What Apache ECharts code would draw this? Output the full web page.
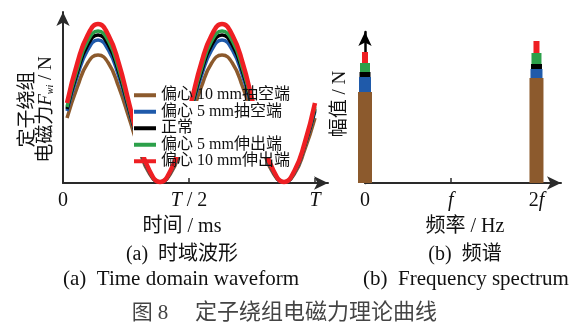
<!DOCTYPE html>
<html>
<head>
<meta charset="utf-8">
<script src="https://cdn.jsdelivr.net/npm/echarts@6/dist/echarts.min.js"></script>
<style>html,body{margin:0;padding:0;background:#fff}#c{width:582px;height:326px}</style>
</head>
<body>
<div id="c"></div>
<script>
// ---- data ----
const seriesNames = ['偏心 10 mm抽空端', '偏心 5 mm抽空端', '正常', '偏心 5 mm伸出端', '偏心 10 mm伸出端'];
const seriesColors = ['#8c5a2d', '#1f5aaa', '#000000', '#2ca04a', '#ee1f23'];
// time samples, as fraction of the period T
const timeT = [0.016,0.057,0.098,0.139,0.180,0.221,0.262,0.303,0.344,0.385,0.426,0.467,0.508,0.549,0.590,0.631,0.672,0.713,0.754,0.795,0.836,0.877,0.918,0.959,1.000];
const forceEcc10Free = [65,96,120,128,120,96,65,33,9,1,9,33,65,96,120,128,120,96,65,33,9,1,9,33,65];
const forceEcc5Free  = [72,107,133,143,133,107,72,37,10,1,10,37,72,107,133,143,133,107,72,37,10,1,10,37,72];
const forceNormal    = [74,111,138,148,138,111,74,38,11,1,11,38,74,111,138,148,138,111,74,38,11,1,11,38,74];
const forceEcc5Out   = [76,114,142,152,142,114,76,39,11,1,11,39,76,114,142,152,142,114,76,39,11,1,11,39,76];
const forceEcc10Out  = [80,120,148,159,148,120,80,40,12,1,12,40,80,120,148,159,148,120,80,40,12,1,12,40,80];
const timeTickLabels = ['0', 'T / 2', 'T'];
// spectrum: harmonic order (multiples of f) and amplitudes
const freqOrder = [0, 2];
const ampEcc10Free = [91, 105];
const ampEcc5Free  = [106, 114];
const ampNormal    = [111, 119];
const ampEcc5Out   = [120, 130];
const ampEcc10Out  = [131, 142];
const freqTickLabels = ['0', 'f', '2f'];

const forces = [forceEcc10Free, forceEcc5Free, forceNormal, forceEcc5Out, forceEcc10Out];
const amps = [ampEcc10Free, ampEcc5Free, ampNormal, ampEcc5Out, ampEcc10Out];

const SERIF = "'Liberation Serif','Noto Sans CJK SC',serif";
const AX = '#2a2a2a';
const chart = echarts.init(document.getElementById('c'), null, {renderer: 'canvas'});

function lineSeries(i) {
  return {
    type: 'line', name: seriesNames[i], xAxisIndex: 0, yAxisIndex: 0,
    data: timeT.map((t, k) => [t, forces[i][k]]),
    smooth: true, showSymbol: false, symbol: 'none',
    lineStyle: {color: seriesColors[i], width: i === 4 ? 4.5 : 3.5},
    itemStyle: {color: seriesColors[i]}, z: 2 + i * 0.1
  };
}
const barWidths = [14, 12, 11, 10, 6];
function barSeries(i) {
  return {
    type: 'bar', name: seriesNames[i], xAxisIndex: 1 + i, yAxisIndex: 1,
    data: freqOrder.map((f, k) => [f, amps[i][k]]),
    barWidth: barWidths[i], clip: false,
    itemStyle: {color: seriesColors[i]}, z: 2
  };
}
const hiddenX = [0,1,2,3,4].map(i => ({
  type: 'value', gridIndex: 1, min: 0, max: 2.286, show: i === 0,
  axisLine: {show: i === 0, symbol: ['none', 'arrow'], symbolSize: [10, 14], lineStyle: {color: AX, width: 2}},
  axisTick: {show: i === 0, inside: true, length: 5, customValues: [0, 1, 2], lineStyle: {color: AX, width: 1.5}},
  axisLabel: {show: i === 0, customValues: [0, 1, 2], margin: 8, fontSize: 20, fontFamily: SERIF, color: '#111',
    formatter: v => v === 0 ? freqTickLabels[0] : (v === 1 ? '{i|' + freqTickLabels[1] + '}' : '2{i|f}'),
    rich: {i: {fontStyle: 'italic', fontSize: 20, fontFamily: SERIF, color: '#111'}}},
  splitLine: {show: false}
}));

function txt(text, x, y, size, color) {
  return {type: 'text', x: x, y: y, z: 100,
    style: {text: text, fontSize: size, fontFamily: SERIF, fill: color || '#111',
      align: 'center', textAlign: 'center', verticalAlign: 'middle', textVerticalAlign: 'middle'}};
}

chart.setOption({
  animation: false,
  grid: [
    {left: 63, top: 12, width: 265, height: 171, outerBoundsMode: 'none', containLabel: false},
    {left: 365, top: 32, width: 196, height: 151, outerBoundsMode: 'none', containLabel: false}
  ],
  xAxis: [
    {type: 'value', gridIndex: 0, min: 0, max: 1.0516,
      axisLine: {symbol: ['none', 'arrow'], symbolSize: [10, 14], lineStyle: {color: AX, width: 2}},
      axisTick: {show: true, inside: true, length: 5, customValues: [0.5, 1], lineStyle: {color: AX, width: 1.5}},
      axisLabel: {customValues: [0, 0.5, 1], margin: 8, fontSize: 20, fontFamily: SERIF, color: '#111',
        formatter: v => v === 0 ? timeTickLabels[0] : (v === 0.5 ? '{i|T} / 2' : '{i|T}'),
        rich: {i: {fontStyle: 'italic', fontSize: 20, fontFamily: SERIF, color: '#111'}}},
      splitLine: {show: false}}
  ].concat(hiddenX),
  yAxis: [
    {type: 'value', gridIndex: 0, min: 0, max: 171,
      axisLine: {show: true, symbol: ['none', 'arrow'], symbolSize: [10, 14], lineStyle: {color: AX, width: 2}},
      axisTick: {show: false}, axisLabel: {show: false}, splitLine: {show: false},
      name: '{c|定子绕组}\n{c|电磁力}{i|F}{s|wi}{c| / N}', nameLocation: 'middle', nameRotate: 90, nameGap: 8,
      nameTextStyle: {fontSize: 19, fontFamily: SERIF, color: '#111', lineHeight: 18, align: 'center', padding: [0, 24, 0, 0],
        rich: {c: {fontSize: 19, fontFamily: SERIF, color: '#111', lineHeight: 18},
               i: {fontStyle: 'italic', fontSize: 19, fontFamily: SERIF, color: '#111', lineHeight: 18},
               s: {fontStyle: 'italic', fontSize: 10, fontFamily: SERIF, color: '#111', verticalAlign: 'bottom', lineHeight: 18}}}},
    {type: 'value', gridIndex: 1, min: 0, max: 151,
      axisLine: {show: true, symbol: ['none', 'arrow'], symbolSize: [10, 14], lineStyle: {color: '#000', width: 2.5}},
      axisTick: {show: false}, axisLabel: {show: false}, splitLine: {show: false},
      name: '幅值 / N', nameLocation: 'middle', nameRotate: 90, nameGap: 15,
      nameTextStyle: {fontSize: 19, fontFamily: SERIF, color: '#111', padding: [0, 0, 0, 7]}}
  ],
  legend: {
    orient: 'vertical', left: 134, top: 87, padding: 0, itemGap: 0, itemWidth: 22, itemHeight: 4,
    icon: 'rect', z: 200, data: seriesNames,
    textStyle: {fontSize: 16, fontFamily: SERIF, color: '#111', lineHeight: 16.5}
  },
  graphic: {elements: [
    {type: 'rect', z: 50, shape: {x: 133, y: 101, width: 160, height: 56}, style: {fill: '#fff'}},
    txt('时间 / ms', 182, 227, 20),
    txt('频率 / Hz', 465, 227, 20),
    txt('(a)  时域波形', 182, 255, 20),
    txt('(b)  频谱', 465, 255, 20),
    txt('(a)  Time domain waveform', 181, 279, 21),
    txt('(b)  Frequency spectrum', 466, 279, 21),
    txt('图 8', 150, 313, 21, '#444'),
    {type: 'text', x: 195, y: 313, z: 100, style: {text: '定子绕组电磁力理论曲线', fontSize: 22, fontFamily: SERIF, fill: '#444',
      align: 'left', textAlign: 'left', verticalAlign: 'middle', textVerticalAlign: 'middle'}}
  ]},
  series: [0,1,2,3,4].map(lineSeries).concat([4,3,2,1,0].map(barSeries))
});
</script>
</body>
</html>
